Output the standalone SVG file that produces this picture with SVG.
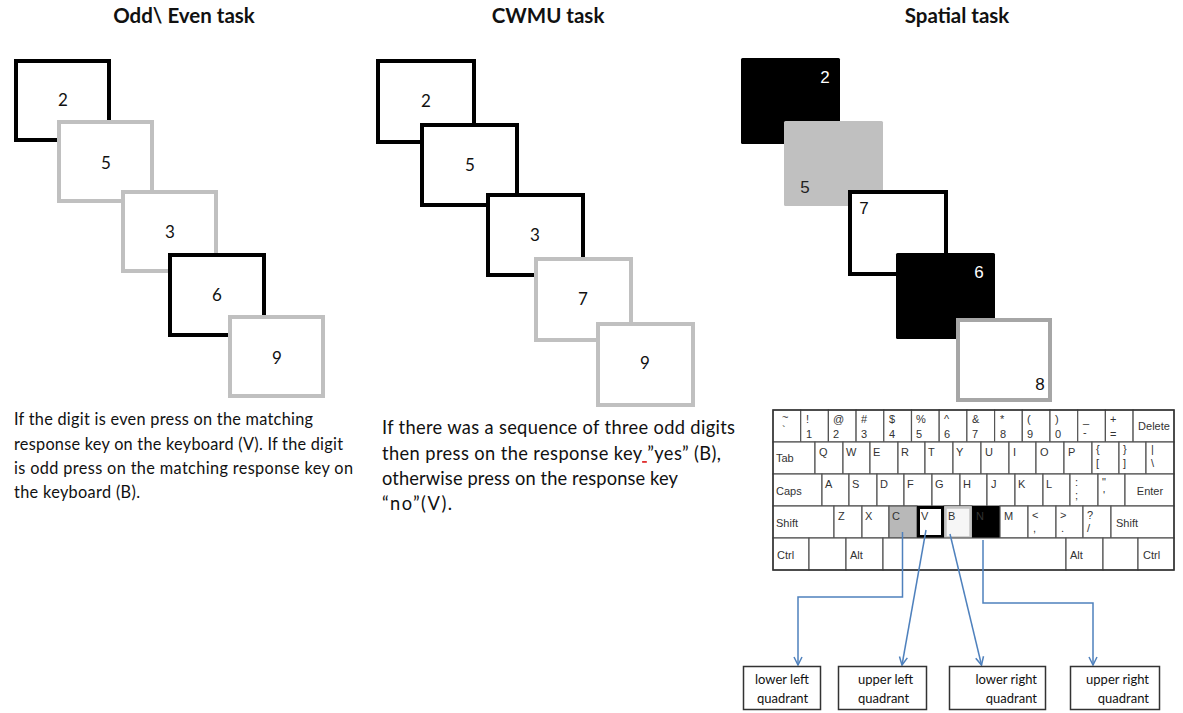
<svg xmlns="http://www.w3.org/2000/svg" width="1183" height="713" viewBox="0 0 1183 713">
<style>
.title{font-family:Lato,"Open Sans",sans-serif;font-weight:bold;font-size:20.5px;fill:#111;text-anchor:middle}
.dig{font-family:Lato,"Open Sans",sans-serif;font-size:17px;fill:#111;text-anchor:middle}
.sdig{font-family:"Liberation Sans",Arial,sans-serif;font-size:17px;text-anchor:middle}
.para{font-family:Lato,"Open Sans",sans-serif;fill:#111}
.bk{fill:#fff;stroke:#000;stroke-width:4}
.gr{fill:#fff;stroke:#c0c0c0;stroke-width:4}
.key{fill:#fff;stroke:#555;stroke-width:1.2}
.kl{font-family:"Liberation Sans",Arial,sans-serif;font-size:11px;fill:#333}
.klc{font-family:"Liberation Sans",Arial,sans-serif;font-size:11px;fill:#333;text-anchor:middle}
.conn{fill:none;stroke:#4f81bd;stroke-width:1.5}
.qbox{fill:#fff;stroke:#333;stroke-width:1.5}
.ql{font-family:Lato,"Open Sans",sans-serif;font-size:13px;fill:#111}
</style>
<defs>
<marker id="arr" viewBox="0 0 10 10" refX="9" refY="5" markerWidth="10" markerHeight="10" markerUnits="userSpaceOnUse" orient="auto">
<path d="M1,1 L9,5 L1,9" fill="none" stroke="#4f81bd" stroke-width="1.5"/>
</marker>
</defs>
<rect width="1183" height="713" fill="#fff"/>

<!-- Titles -->
<text class="title" x="184" y="23">Odd\ Even task</text>
<text class="title" x="548" y="23">CWMU task</text>
<text class="title" x="957" y="23">Spatial task</text>

<!-- Odd/Even panel -->
<g id="oe1"><rect class="bk" x="16" y="61" width="93" height="79"/><text class="dig" x="63" y="106">2</text></g>
<g id="oe2"><rect class="gr" x="59" y="122" width="93" height="79"/><text class="dig" x="106" y="169">5</text></g>
<g id="oe3"><rect class="gr" x="123" y="192" width="93" height="79"/><text class="dig" x="170" y="238">3</text></g>
<g id="oe4"><rect class="bk" x="170" y="255" width="94" height="80"/><text class="dig" x="217" y="301">6</text></g>
<g id="oe5"><rect class="gr" x="230" y="317" width="93" height="79"/><text class="dig" x="277" y="364">9</text></g>
<g id="oe-text" class="para" font-size="16.3">
<text x="14" y="425" textLength="299" lengthAdjust="spacing">If the digit is even press on the matching</text>
<text x="14" y="449.5" textLength="329" lengthAdjust="spacing">response key on the keyboard (V). If the digit</text>
<text x="14" y="474" textLength="339" lengthAdjust="spacing">is odd press on the matching response key on</text>
<text x="14" y="498" textLength="126" lengthAdjust="spacing">the keyboard (B).</text>
</g>

<!-- CWMU panel -->
<g id="cw1"><rect class="bk" x="378" y="61" width="96" height="81"/><text class="dig" x="426" y="107">2</text></g>
<g id="cw2"><rect class="bk" x="422" y="125" width="95" height="80"/><text class="dig" x="470" y="171">5</text></g>
<g id="cw3"><rect class="bk" x="488" y="195" width="95" height="80"/><text class="dig" x="535" y="241">3</text></g>
<g id="cw4"><rect class="gr" x="536" y="259" width="95" height="81"/><text class="dig" x="583" y="305">7</text></g>
<g id="cw5"><rect class="gr" x="598" y="324" width="95" height="81"/><text class="dig" x="645" y="369">9</text></g>
<g id="cw-text" class="para" font-size="18.3">
<text x="382" y="434" textLength="353" lengthAdjust="spacing">If there was a sequence of three odd digits</text>
<text x="382" y="460" textLength="339" lengthAdjust="spacing">then press on the response key<tspan fill="#e03030" text-decoration="underline"> </tspan>”yes” (B),</text>
<text x="382" y="485" textLength="296" lengthAdjust="spacing">otherwise press on the response key</text>
<text x="382" y="510" textLength="70" lengthAdjust="spacing">“no”(V).</text>
</g>

<!-- Spatial panel -->
<g id="sp1"><rect x="741" y="58" width="99" height="86" rx="1.5" fill="#000"/><text class="sdig" x="825" y="83" fill="#fff">2</text></g>
<g id="sp2"><rect x="784" y="121" width="99" height="85" rx="1.5" fill="#c0c0c0"/><text class="sdig" x="805" y="193" fill="#222">5</text></g>
<g id="sp3"><rect class="bk" x="850" y="192" width="96" height="82"/><text class="sdig" x="864" y="214" fill="#111">7</text></g>
<g id="sp4"><rect x="896" y="253" width="99" height="86" rx="1.5" fill="#000"/><text class="sdig" x="979" y="278" fill="#fff">6</text></g>
<g id="sp5"><rect x="958" y="320" width="92" height="80" fill="#fff" stroke="#a6a6a6" stroke-width="4"/><text class="sdig" x="1040" y="390" fill="#111" font-size="18">8</text></g>

<!-- Keyboard -->
<g id="keyboard">
<!-- row 1 -->
<rect class="key" x="773" y="410" width="27.7" height="32"/>
<rect class="key" x="800.7" y="410" width="27.7" height="32"/>
<rect class="key" x="828.4" y="410" width="27.7" height="32"/>
<rect class="key" x="856.1" y="410" width="27.7" height="32"/>
<rect class="key" x="883.8" y="410" width="27.7" height="32"/>
<rect class="key" x="911.5" y="410" width="27.7" height="32"/>
<rect class="key" x="939.2" y="410" width="27.7" height="32"/>
<rect class="key" x="966.9" y="410" width="27.7" height="32"/>
<rect class="key" x="994.6" y="410" width="27.7" height="32"/>
<rect class="key" x="1022.3" y="410" width="27.7" height="32"/>
<rect class="key" x="1050" y="410" width="27.7" height="32"/>
<rect class="key" x="1077.7" y="410" width="27.7" height="32"/>
<rect class="key" x="1105.4" y="410" width="27.7" height="32"/>
<rect class="key" x="1133.1" y="410" width="40.9" height="32"/>
<text class="kl" x="782" y="421">~</text><text class="kl" x="782" y="434">`</text>
<text class="kl" x="806" y="423">!</text><text class="kl" x="806" y="438">1</text>
<text class="kl" x="833" y="423">@</text><text class="kl" x="833" y="438">2</text>
<text class="kl" x="861" y="423">#</text><text class="kl" x="861" y="438">3</text>
<text class="kl" x="889" y="423">$</text><text class="kl" x="889" y="438">4</text>
<text class="kl" x="916" y="423">%</text><text class="kl" x="916" y="438">5</text>
<text class="kl" x="944" y="423">^</text><text class="kl" x="944" y="438">6</text>
<text class="kl" x="972" y="423">&amp;</text><text class="kl" x="972" y="438">7</text>
<text class="kl" x="1000" y="423">*</text><text class="kl" x="1000" y="438">8</text>
<text class="kl" x="1027" y="423">(</text><text class="kl" x="1027" y="438">9</text>
<text class="kl" x="1055" y="423">)</text><text class="kl" x="1055" y="438">0</text>
<text class="kl" x="1083" y="423">_</text><text class="kl" x="1083" y="436">-</text>
<text class="kl" x="1110" y="423">+</text><text class="kl" x="1110" y="438">=</text>
<text class="klc" x="1154" y="430">Delete</text>
<!-- row 2 -->
<rect class="key" x="773" y="442" width="42" height="32"/>
<rect class="key" x="815" y="442" width="28" height="32"/>
<rect class="key" x="843" y="442" width="27" height="32"/>
<rect class="key" x="870" y="442" width="28" height="32"/>
<rect class="key" x="898" y="442" width="27" height="32"/>
<rect class="key" x="925" y="442" width="28" height="32"/>
<rect class="key" x="953" y="442" width="28" height="32"/>
<rect class="key" x="981" y="442" width="28" height="32"/>
<rect class="key" x="1009" y="442" width="27" height="32"/>
<rect class="key" x="1036" y="442" width="28" height="32"/>
<rect class="key" x="1064" y="442" width="28" height="32"/>
<rect class="key" x="1092" y="442" width="27" height="32"/>
<rect class="key" x="1119" y="442" width="27" height="32"/>
<rect class="key" x="1146" y="442" width="28" height="32"/>
<text class="kl" x="776" y="462">Tab</text>
<text class="kl" x="819" y="456">Q</text>
<text class="kl" x="846" y="456">W</text>
<text class="kl" x="873" y="456">E</text>
<text class="kl" x="901" y="456">R</text>
<text class="kl" x="928" y="456">T</text>
<text class="kl" x="956" y="456">Y</text>
<text class="kl" x="985" y="456">U</text>
<text class="kl" x="1013" y="456">I</text>
<text class="kl" x="1040" y="456">O</text>
<text class="kl" x="1068" y="456">P</text>
<text class="kl" x="1096" y="453">{</text><text class="kl" x="1096" y="467">[</text>
<text class="kl" x="1123" y="453">}</text><text class="kl" x="1123" y="467">]</text>
<text class="kl" x="1151" y="453">|</text><text class="kl" x="1151" y="467">\</text>
<!-- row 3 -->
<rect class="key" x="773" y="474" width="49" height="32"/>
<rect class="key" x="822" y="474" width="27" height="32"/>
<rect class="key" x="849" y="474" width="28" height="32"/>
<rect class="key" x="877" y="474" width="27" height="32"/>
<rect class="key" x="904" y="474" width="28" height="32"/>
<rect class="key" x="932" y="474" width="28" height="32"/>
<rect class="key" x="960" y="474" width="27" height="32"/>
<rect class="key" x="987" y="474" width="28" height="32"/>
<rect class="key" x="1015" y="474" width="28" height="32"/>
<rect class="key" x="1043" y="474" width="27" height="32"/>
<rect class="key" x="1070" y="474" width="28" height="32"/>
<rect class="key" x="1098" y="474" width="27" height="32"/>
<rect class="key" x="1125" y="474" width="49" height="32"/>
<text class="kl" x="776" y="495">Caps</text>
<text class="kl" x="825" y="488">A</text>
<text class="kl" x="852" y="488">S</text>
<text class="kl" x="880" y="488">D</text>
<text class="kl" x="907" y="488">F</text>
<text class="kl" x="935" y="488">G</text>
<text class="kl" x="963" y="488">H</text>
<text class="kl" x="991" y="488">J</text>
<text class="kl" x="1018" y="488">K</text>
<text class="kl" x="1046" y="488">L</text>
<text class="kl" x="1075" y="486">:</text><text class="kl" x="1075" y="499">;</text>
<text class="kl" x="1102" y="486">"</text><text class="kl" x="1103" y="499">'</text>
<text class="klc" x="1150" y="495">Enter</text>
<!-- row 4 -->
<rect class="key" x="773" y="506" width="61" height="32"/>
<rect class="key" x="834" y="506" width="28" height="32"/>
<rect class="key" x="862" y="506" width="27" height="32"/>
<rect x="889" y="506" width="28" height="32" fill="#b8b8b8" stroke="#555" stroke-width="1.2"/>
<rect class="key" x="944" y="506" width="28" height="32"/>
<rect x="945.5" y="507.5" width="25" height="30" fill="#f6f6f6" stroke="#c4c4c4" stroke-width="2.5"/>
<rect x="972" y="506" width="28" height="32" fill="#000"/>
<rect class="key" x="1000" y="506" width="28" height="32"/>
<rect class="key" x="1028" y="506" width="28" height="32"/>
<rect class="key" x="1056" y="506" width="27" height="32"/>
<rect class="key" x="1083" y="506" width="28" height="32"/>
<rect class="key" x="1111" y="506" width="63" height="32"/>
<rect x="918.5" y="507.5" width="24" height="29" fill="#fff" stroke="#000" stroke-width="3"/>
<text class="kl" x="776" y="527">Shift</text>
<text class="kl" x="838" y="520">Z</text>
<text class="kl" x="865" y="520">X</text>
<text class="kl" x="892" y="520" fill="#666">C</text>
<text class="kl" x="921" y="520">V</text>
<text class="kl" x="948" y="520" fill="#666">B</text>
<text class="kl" x="976" y="520" fill="#666">N</text>
<text class="kl" x="1004" y="520">M</text>
<text class="kl" x="1032" y="519">&lt;</text><text class="kl" x="1033" y="532">,</text>
<text class="kl" x="1060" y="519">&gt;</text><text class="kl" x="1061" y="532">.</text>
<text class="kl" x="1087" y="519">?</text><text class="kl" x="1087" y="532">/</text>
<text class="kl" x="1116" y="527">Shift</text>
<!-- row 5 -->
<rect class="key" x="773" y="538" width="36" height="32"/>
<rect class="key" x="809" y="538" width="37" height="32"/>
<rect class="key" x="846" y="538" width="37" height="32"/>
<rect class="key" x="883" y="538" width="183" height="32"/>
<rect class="key" x="1066" y="538" width="37" height="32"/>
<rect class="key" x="1103" y="538" width="35" height="32"/>
<rect class="key" x="1138" y="538" width="36" height="32"/>
<text class="kl" x="777" y="559">Ctrl</text>
<text class="kl" x="850" y="559">Alt</text>
<text class="kl" x="1070" y="559">Alt</text>
<text class="kl" x="1143" y="559">Ctrl</text>
<rect x="773" y="410" width="401" height="160" fill="none" stroke="#333" stroke-width="1.5"/>
</g>

<!-- Connectors -->
<g id="connectors">
<polyline class="conn" points="902.5,532 902.5,597 798,597 798,665" marker-end="url(#arr)"/>
<line class="conn" x1="926" y1="530" x2="902" y2="665" marker-end="url(#arr)"/>
<line class="conn" x1="950" y1="534" x2="981.5" y2="665" marker-end="url(#arr)"/>
<polyline class="conn" points="983,540 983,603 1093,603 1093,665" marker-end="url(#arr)"/>
</g>

<!-- Quadrant boxes -->
<g id="q-ll"><rect class="qbox" x="743.5" y="666.5" width="77" height="43"/><text class="ql" x="755" y="684">lower left</text><text class="ql" x="757" y="703">quadrant</text></g>
<g id="q-ul"><rect class="qbox" x="838.5" y="666.5" width="88" height="43"/><text class="ql" x="858" y="684">upper left</text><text class="ql" x="858" y="703">quadrant</text></g>
<g id="q-lr"><rect class="qbox" x="949.5" y="666.5" width="96" height="43"/><text class="ql" x="1037" y="684" text-anchor="end">lower right</text><text class="ql" x="1037" y="703" text-anchor="end">quadrant</text></g>
<g id="q-ur"><rect class="qbox" x="1070.5" y="666.5" width="89" height="43"/><text class="ql" x="1149" y="684" text-anchor="end">upper right</text><text class="ql" x="1149" y="703" text-anchor="end">quadrant</text></g>
</svg>
